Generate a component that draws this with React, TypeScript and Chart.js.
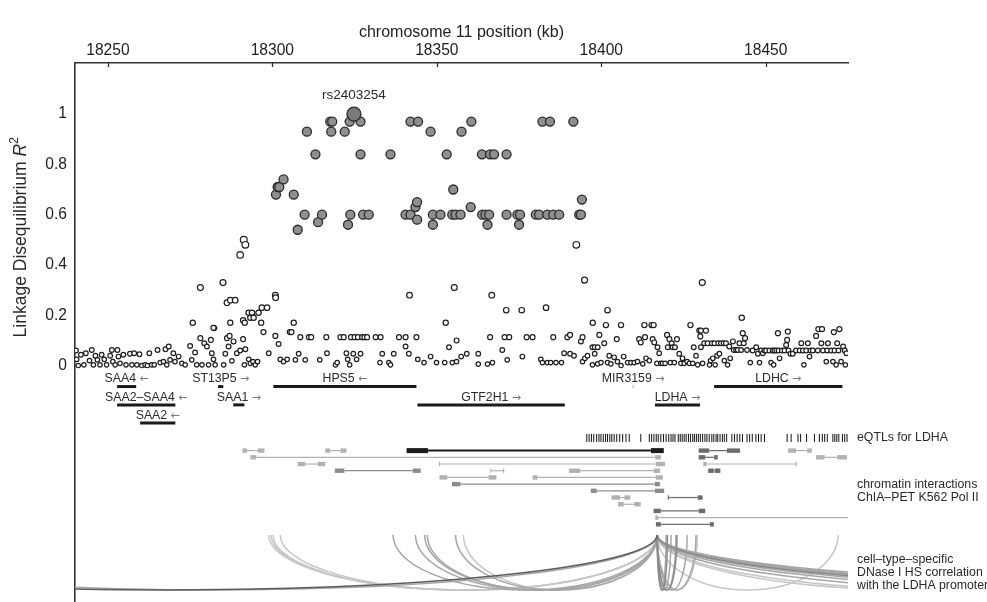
import React, { useEffect, useRef } from 'react';
import { Chart, registerables } from 'chart.js';

Chart.register(...registerables);

const FONT = '"Liberation Sans", Arial, Helvetica, sans-serif';
const ARROW_FONT = '"DejaVu Sans", "Liberation Sans", sans-serif';
const INK = '#222222';

// ---------- axes ----------
const X_MIN = 18240;
const X_MAX = 18475;
const Y_MIN = -0.94;
const Y_MAX = 1.203;
const X_TICKS = [18250, 18300, 18350, 18400, 18450];
const Y_TICKS = [0, 0.2, 0.4, 0.6, 0.8, 1];
const X_TITLE = 'chromosome 11 position (kb)';

// ---------- LD data: [position kb, R²] ----------
const leadSnp = { name: 'rs2403254', pos: 18324.8, r2: 1.0 };

const highLdSnps: [number, number][] = [
  [18310.5, 0.93], [18313.1, 0.84], [18317.6, 0.97], [18318.2, 0.97], [18317.9, 0.93], [18322.0, 0.93],
  [18323.5, 0.97], [18326.8, 0.97], [18326.8, 0.84], [18335.9, 0.84], [18342.0, 0.97], [18344.3, 0.97],
  [18348.1, 0.93], [18353.0, 0.84], [18357.5, 0.93], [18360.5, 0.97], [18363.7, 0.84], [18366.2, 0.84],
  [18367.4, 0.84], [18371.2, 0.84], [18382.1, 0.97], [18384.4, 0.97], [18391.5, 0.97],
  [18301.1, 0.68], [18301.6, 0.71], [18302.1, 0.71], [18303.4, 0.74], [18306.5, 0.68], [18307.7, 0.54],
  [18309.8, 0.60], [18313.9, 0.57], [18315.1, 0.60], [18323.0, 0.56], [18323.7, 0.60], [18327.6, 0.60],
  [18329.3, 0.60], [18340.5, 0.60], [18342.0, 0.60], [18343.5, 0.63], [18344.0, 0.65], [18344.0, 0.58],
  [18348.8, 0.60], [18348.8, 0.56], [18351.1, 0.60], [18355.0, 0.70], [18354.7, 0.60], [18355.7, 0.60],
  [18357.2, 0.60], [18360.3, 0.63], [18363.8, 0.60], [18364.8, 0.60], [18365.9, 0.60], [18365.4, 0.56],
  [18371.2, 0.60], [18374.5, 0.60], [18375.3, 0.60], [18375.0, 0.56], [18380.1, 0.60], [18381.1, 0.60],
  [18383.6, 0.60], [18385.4, 0.60], [18387.2, 0.60], [18393.3, 0.60], [18393.8, 0.60], [18394.1, 0.66],
];

const midLdSnps: [number, number][] = [
  [18278.1, 0.31], [18285.0, 0.33], [18286.2, 0.25], [18287.2, 0.26], [18288.7, 0.26], [18290.2, 0.44],
  [18291.3, 0.50], [18291.8, 0.48], [18291.1, 0.18], [18292.8, 0.21], [18293.8, 0.21], [18293.3, 0.19],
  [18294.3, 0.19], [18295.8, 0.21], [18296.8, 0.23], [18298.4, 0.23], [18300.9, 0.28], [18301.0, 0.27],
  [18341.7, 0.28], [18355.3, 0.31], [18366.7, 0.28], [18371.1, 0.22], [18375.8, 0.22], [18383.2, 0.23],
  [18401.9, 0.22], [18430.7, 0.33], [18442.7, 0.19], [18392.4, 0.48], [18394.9, 0.34], [18352.7, 0.17],
  [18306.5, 0.17], [18275.8, 0.17], [18287.2, 0.17], [18282.1, 0.15], [18291.6, 0.17], [18296.6, 0.17],
  [18397.4, 0.17],
];

const lowLdSnps: [number, number][] = [
  [18240.3, 0.06], [18240.5, 0.025], [18241.0, 0.0], [18241.8, 0.043], [18242.7, 0.003], [18243.3, 0.049],
  [18244.4, 0.02], [18245.1, 0.062], [18245.6, 0.003], [18246.2, 0.039], [18246.8, 0.023], [18247.6, 0.003],
  [18248.1, 0.043], [18248.9, 0.025], [18249.6, 0.003], [18250.7, 0.039], [18251.2, 0.062], [18251.5, 0.016],
  [18252.2, 0.003], [18252.9, 0.062], [18253.2, 0.036], [18253.7, 0.009], [18254.7, 0.043], [18255.5, 0.003],
  [18256.7, 0.047], [18257.3, 0.003], [18258.0, 0.049], [18258.8, 0.003], [18259.6, 0.045], [18260.3, 0.0],
  [18261.3, 0.003], [18262.0, 0.0], [18262.6, 0.049], [18263.3, 0.003], [18264.1, 0.003], [18265.1, 0.062],
  [18265.9, 0.012], [18266.9, 0.016], [18267.5, 0.065], [18267.9, 0.003], [18268.5, 0.076], [18268.9, 0.023],
  [18269.9, 0.049], [18270.4, 0.016], [18271.5, 0.036], [18272.5, 0.009], [18273.5, 0.003], [18275.0, 0.078],
  [18275.5, 0.023], [18276.5, 0.052], [18277.0, 0.003], [18278.1, 0.109], [18278.6, 0.003], [18279.3, 0.089],
  [18280.1, 0.076], [18280.6, 0.003], [18281.3, 0.102], [18281.6, 0.049], [18282.1, 0.025], [18282.3, 0.149],
  [18282.6, 0.003], [18285.2, 0.003], [18285.7, 0.047], [18286.2, 0.109], [18286.7, 0.076], [18287.0, 0.118],
  [18287.7, 0.019], [18288.2, 0.096], [18289.2, 0.049], [18290.2, 0.06], [18291.1, 0.105], [18291.5, 0.003],
  [18291.8, 0.065], [18292.8, 0.025], [18293.3, 0.009], [18294.1, 0.016], [18294.8, 0.003], [18295.5, 0.016],
  [18297.3, 0.133], [18298.9, 0.049], [18300.9, 0.118], [18301.9, 0.086], [18302.4, 0.025], [18303.4, 0.016],
  [18304.5, 0.025], [18305.3, 0.133], [18305.8, 0.133], [18307.0, 0.023], [18308.0, 0.047], [18308.5, 0.113],
  [18310.0, 0.023], [18311.1, 0.113], [18311.8, 0.113], [18314.4, 0.023], [18316.4, 0.113], [18316.6, 0.049],
  [18319.2, 0.003], [18319.7, 0.012], [18320.7, 0.113], [18321.7, 0.113], [18322.5, 0.049], [18322.9, 0.025],
  [18323.5, 0.003], [18323.9, 0.113], [18324.6, 0.047], [18325.0, 0.113], [18325.6, 0.025], [18326.0, 0.113],
  [18326.8, 0.047], [18327.3, 0.113], [18328.0, 0.113], [18328.8, 0.113], [18331.4, 0.113], [18332.7, 0.012],
  [18332.9, 0.113], [18333.4, 0.047], [18335.4, 0.012], [18335.9, 0.003], [18336.9, 0.047], [18338.5, 0.113],
  [18340.5, 0.113], [18340.5, 0.076], [18341.5, 0.047], [18343.8, 0.113], [18344.2, 0.025], [18346.1, 0.012],
  [18348.1, 0.036], [18349.9, 0.012],
  [18353.7, 0.073], [18352.4, 0.012], [18354.7, 0.012], [18356.0, 0.016], [18356.0, 0.1], [18357.4, 0.036],
  [18359.1, 0.047], [18362.6, 0.047], [18362.6, 0.006], [18365.4, 0.006], [18366.9, 0.012], [18366.2, 0.113],
  [18369.9, 0.062], [18370.6, 0.113], [18372.0, 0.113], [18371.4, 0.023], [18376.0, 0.036], [18377.3, 0.113],
  [18379.1, 0.113], [18381.6, 0.025], [18382.1, 0.012], [18383.6, 0.012], [18384.6, 0.012], [18386.2, 0.012],
  [18387.9, 0.012], [18385.4, 0.113], [18388.7, 0.049], [18389.7, 0.113], [18390.5, 0.122], [18390.5, 0.047],
  [18391.7, 0.039], [18393.8, 0.096], [18394.3, 0.113], [18394.3, 0.016], [18395.0, 0.029], [18395.8, 0.039],
  [18397.3, 0.073], [18398.0, 0.073], [18398.9, 0.073], [18399.4, 0.122], [18398.0, 0.047], [18397.3, 0.003],
  [18398.9, 0.007], [18399.9, 0.012], [18400.9, 0.089], [18401.4, 0.161], [18401.9, 0.012], [18402.4, 0.039],
  [18402.9, 0.007], [18403.9, 0.033], [18404.7, 0.105], [18404.9, 0.016], [18406.0, 0.161], [18406.8, 0.036],
  [18406.0, 0.0], [18408.0, 0.012], [18409.0, 0.012], [18410.0, 0.012], [18411.0, 0.016], [18411.5, 0.105],
  [18412.0, 0.092], [18412.6, 0.007], [18413.3, 0.113], [18413.1, 0.161], [18413.6, 0.029], [18414.6, 0.02],
  [18415.3, 0.161], [18415.9, 0.161], [18415.6, 0.105], [18416.1, 0.092], [18416.9, 0.009], [18417.1, 0.073],
  [18417.6, 0.049], [18418.1, 0.009], [18418.6, 0.009], [18419.4, 0.009], [18420.0, 0.122], [18420.2, 0.073],
  [18420.7, 0.105], [18421.0, 0.012], [18421.4, 0.089], [18421.7, 0.073], [18422.4, 0.073], [18422.2, 0.012],
  [18423.0, 0.105], [18423.7, 0.047], [18424.2, 0.009], [18424.7, 0.029], [18425.2, 0.009], [18426.1, 0.016],
  [18426.8, 0.009], [18427.1, 0.161], [18427.8, 0.009], [18428.1, 0.073], [18428.8, 0.039], [18429.3, 0.003],
  [18429.8, 0.139], [18430.1, 0.116], [18430.3, 0.139], [18430.3, 0.073], [18430.8, 0.009], [18431.3, 0.089],
  [18431.8, 0.139], [18432.3, 0.089], [18432.9, 0.003], [18433.2, 0.02], [18433.6, 0.089], [18433.9, 0.029],
  [18434.4, 0.089], [18434.6, 0.003], [18435.2, 0.039], [18435.6, 0.089], [18435.9, 0.047], [18436.4, 0.089],
  [18437.2, 0.089], [18437.4, 0.02], [18437.9, 0.089], [18438.4, 0.003], [18438.9, 0.076], [18439.2, 0.029],
  [18440.0, 0.096], [18440.3, 0.062], [18441.0, 0.062], [18441.5, 0.062], [18442.0, 0.089], [18442.5, 0.062],
  [18443.0, 0.129], [18443.3, 0.089], [18443.7, 0.109], [18444.3, 0.062], [18445.3, 0.012], [18446.0, 0.06],
  [18447.1, 0.073], [18447.6, 0.047], [18448.1, 0.012], [18448.6, 0.06], [18449.1, 0.049], [18449.6, 0.06],
  [18450.1, 0.06], [18451.1, 0.06], [18451.6, 0.012], [18452.1, 0.06], [18452.4, 0.003], [18452.6, 0.06],
  [18453.2, 0.06], [18453.7, 0.129], [18453.9, 0.06], [18454.2, 0.029], [18454.9, 0.06], [18455.7, 0.06],
  [18456.2, 0.082], [18456.7, 0.135], [18456.5, 0.102], [18456.9, 0.06], [18457.5, 0.047], [18458.2, 0.047],
  [18459.2, 0.06], [18460.3, 0.06], [18460.8, 0.089], [18461.3, 0.06], [18461.6, 0.003], [18462.3, 0.06],
  [18462.8, 0.089], [18463.3, 0.036], [18463.6, 0.06], [18464.3, 0.06], [18465.3, 0.118], [18465.8, 0.06],
  [18466.0, 0.145], [18466.9, 0.089], [18467.1, 0.145], [18467.4, 0.06], [18468.4, 0.016], [18468.7, 0.06],
  [18468.9, 0.089], [18469.9, 0.06], [18470.4, 0.016], [18470.7, 0.133], [18470.9, 0.06], [18471.4, 0.003],
  [18471.7, 0.089], [18472.1, 0.06], [18472.4, 0.145], [18472.9, 0.016], [18473.5, 0.076], [18474.0, 0.06],
  [18474.2, 0.003], [18474.5, 0.049],
];

// ---------- genes: [name, start kb, end kb, strand, row] ----------
const genes: [string, number, number, string, number][] = [
  ['SAA4', 18252.8, 18258.6, '←', 0],
  ['ST13P5', 18283.5, 18285.1, '→', 0],
  ['HPS5', 18300.3, 18343.8, '←', 0],
  ['MIR3159', 18409.55, 18409.8, '→', 0],
  ['LDHC', 18434.3, 18473.3, '→', 0],
  ['SAA2–SAA4', 18252.8, 18270.5, '←', 1],
  ['SAA1', 18288.1, 18291.5, '→', 1],
  ['GTF2H1', 18344.1, 18388.9, '→', 1],
  ['LDHA', 18416.3, 18430.0, '→', 1],
  ['SAA2', 18259.8, 18270.5, '←', 2],
];

// ---------- eQTLs for LDHA (kb) ----------
const eqtlPositions = [
  18395.6, 18396.3, 18397.0, 18397.7, 18398.6, 18399.3, 18399.9, 18400.6, 18401.3, 18401.9, 18402.6, 18403.2,
  18403.9, 18404.7, 18405.6, 18406.5, 18407.5, 18408.5, 18412.0, 18414.6, 18415.3, 18416.0, 18416.7, 18417.3,
  18418.1, 18418.9, 18419.7, 18420.5, 18421.2, 18421.8, 18422.4, 18423.4, 18424.0, 18424.6, 18425.2, 18425.8,
  18426.5, 18427.1, 18427.8, 18428.3, 18428.9, 18429.5, 18430.1, 18430.8, 18431.5, 18432.1, 18432.8, 18433.6,
  18434.2, 18434.9, 18435.4, 18436.1, 18436.8, 18437.4, 18438.1, 18439.7, 18440.5, 18441.3, 18442.1, 18442.9,
  18444.3, 18445.1, 18445.9, 18447.0, 18447.8, 18448.6, 18449.6, 18456.5, 18457.7, 18459.8, 18460.6, 18462.4,
  18464.8, 18466.3, 18467.2, 18467.9, 18468.7, 18470.4, 18471.0, 18471.6, 18472.2, 18473.3, 18474.0, 18474.7,
];

// ---------- ChIA-PET loops: [anchor1 start, anchor1 end, anchor2 start, anchor2 end, row, strength] ----------
const chiaLoops: [number, number, number, number, number, number][] = [
  [18290.9, 18292.3, 18295.6, 18297.6, 0, 0],
  [18316.1, 18317.6, 18320.7, 18322.5, 0, 0],
  [18340.8, 18347.3, 18415.1, 18419.0, 0, 3],
  [18429.6, 18432.8, 18438.2, 18442.2, 0, 2],
  [18456.8, 18459.2, 18462.6, 18464.0, 0, 0],
  [18293.3, 18295.1, 18416.4, 18418.1, 1, 0],
  [18429.6, 18431.6, 18434.3, 18435.4, 1, 2],
  [18465.3, 18467.9, 18471.7, 18474.7, 1, 0],
  [18307.7, 18310.0, 18313.8, 18316.1, 2, 0],
  [18350.7, 18350.9, 18416.6, 18419.4, 2, 0],
  [18431.0, 18432.0, 18459.2, 18459.4, 2, 0],
  [18319.0, 18321.9, 18342.7, 18345.1, 3, 1],
  [18366.2, 18366.6, 18370.1, 18370.5, 3, 0],
  [18390.2, 18393.6, 18415.9, 18417.9, 3, 0],
  [18432.5, 18434.2, 18434.5, 18436.2, 3, 2],
  [18350.8, 18353.2, 18365.7, 18368.1, 4, 0],
  [18379.1, 18380.6, 18416.6, 18418.7, 4, 0],
  [18354.6, 18357.2, 18416.3, 18417.8, 5, 1],
  [18396.8, 18398.6, 18416.3, 18419.1, 6, 1],
  [18403.1, 18405.7, 18407.0, 18408.8, 7, 0],
  [18420.3, 18420.5, 18429.3, 18430.8, 7, 2],
  [18405.1, 18406.8, 18410.0, 18412.0, 8, 0],
  [18415.9, 18418.1, 18429.6, 18431.6, 9, 2],
  [18416.4, 18417.3, 18480.0, 18481.0, 10, 0],
  [18416.6, 18418.1, 18433.0, 18434.2, 11, 2],
];

// ---------- DNase I HS correlation arcs with the LDHA promoter ----------
const dnasePromoterKb = 18417.0;
const dnaseArcEnds = [
  18298.9, 18299.6, 18300.2, 18302.4, 18336.7, 18343.5, 18346.3, 18347.1, 18355.7, 18358.1,
  18120, 18150,
  18419.7, 18420.1, 18421.2, 18422.7, 18423.0, 18426.1, 18428.8, 18429.2,
  18472.0,
  18577, 18600, 18650, 18700, 18740, 18770, 18790, 18810, 18830, 18860,
];
const dnaseArcLevel = [
  0, 0, 0, 0, 1, 1, 1, 1, 1, 0,
  3, 1,
  1, 2, 1, 1, 2, 1, 1, 0,
  0,
  0, 0, 1, 1, 1, 2, 1, 1, 1, 1,
];

// ---------- track labels ----------
const eqtlLabel = ['eQTLs for LDHA'];
const chiaLabel = ['chromatin interactions', 'ChIA–PET K562 Pol II'];
const dnaseLabel = ['cell–type–specific', 'DNase I HS correlation', 'with the LDHA promoter'];

// ---------- layout constants (axis units below R² = 0) ----------
const GENE_ROW_Y = [-0.0835, -0.1563, -0.2279];
const EQTL_ROW_Y = -0.2876;
const CHIA_ROW0_Y = -0.3381;
const CHIA_ROW_STEP = 0.02665;
const ARC_TOP_Y = -0.6734;
const ARC_DEPTH = 0.2188;
const EQTL_LABEL_Y = [-0.2876];
const CHIA_LABEL_Y = [-0.4745, -0.5263];
const DNASE_LABEL_Y = [-0.7729, -0.8246, -0.8763];

const CHIA_COLORS = ['#b2b2b2', '#8c8c8c', '#6c6c6c', '#1a1a1a'];
const ARC_COLORS = ['#c6c6c6', '#a6a6a6', '#8a8a8a', '#5c5c5c'];

const decorPlugin = {
  id: 'decor',
  beforeDatasetsDraw(chart: any) {
    const { ctx, chartArea: ca } = chart;
    const xs = chart.scales.x;
    const ys = chart.scales.y;
    ctx.save();
    ctx.beginPath();
    ctx.rect(ca.left, ca.top, ca.right - ca.left, ca.bottom - ca.top);
    ctx.clip();

    // arcs
    const pp = xs.getPixelForValue(dnasePromoterKb);
    const top = ys.getPixelForValue(ARC_TOP_Y);
    const ry = ys.getPixelForValue(ARC_TOP_Y - ARC_DEPTH) - top;
    const idx = dnaseArcEnds.map((_, i) => i).sort((a, b) => dnaseArcLevel[a] - dnaseArcLevel[b]);
    ctx.lineWidth = 1.5;
    idx.forEach((i) => {
      const pd = xs.getPixelForValue(dnaseArcEnds[i]);
      ctx.beginPath();
      ctx.ellipse((pd + pp) / 2, top, Math.max(Math.abs(pd - pp) / 2, 0.5), ry, 0, 0, Math.PI);
      ctx.strokeStyle = ARC_COLORS[dnaseArcLevel[i]];
      ctx.stroke();
    });

    // ChIA-PET loops
    chiaLoops.forEach(([a1s, a1e, a2s, a2e, row, lvl]) => {
      const yy = ys.getPixelForValue(CHIA_ROW0_Y - row * CHIA_ROW_STEP);
      const col = CHIA_COLORS[lvl];
      const h = lvl === 3 ? 5 : 4.4;
      const x1s = xs.getPixelForValue(a1s);
      const x1e = xs.getPixelForValue(a1e);
      const x2s = xs.getPixelForValue(a2s);
      const x2e = xs.getPixelForValue(a2e);
      ctx.strokeStyle = col;
      ctx.lineWidth = lvl === 3 ? 2 : 1.2;
      ctx.beginPath();
      ctx.moveTo(x1e, yy);
      ctx.lineTo(x2s, yy);
      ctx.stroke();
      ctx.fillStyle = col;
      [[x1s, x1e], [x2s, x2e]].forEach(([s, e]) => {
        if (e - s < 2) ctx.fillRect((s + e) / 2 - 0.6, yy - h / 2, 1.2, h);
        else ctx.fillRect(s, yy - h / 2, e - s, h);
      });
    });
    ctx.restore();
  },
  afterDraw(chart: any) {
    const { ctx, chartArea: ca } = chart;
    const xs = chart.scales.x;
    const ys = chart.scales.y;
    ctx.save();
    // inward tick marks on the top axis
    ctx.strokeStyle = '#333';
    ctx.lineWidth = 1.3;
    X_TICKS.forEach((v) => {
      const px = Math.round(xs.getPixelForValue(v)) + 0.5;
      ctx.beginPath();
      ctx.moveTo(px, ca.top);
      ctx.lineTo(px, ca.top + 4);
      ctx.stroke();
    });

    // gene labels
    ctx.textBaseline = 'middle';
    ctx.textAlign = 'left';
    genes.forEach(([name, s, e, strand, row]) => {
      const cx = (xs.getPixelForValue(s) + xs.getPixelForValue(e)) / 2;
      const yy = ys.getPixelForValue(GENE_ROW_Y[row]) - 7.5;
      const a = name + ' ';
      ctx.font = `12.3px ${FONT}`;
      const wa = ctx.measureText(a).width;
      ctx.font = `11px ${ARROW_FONT}`;
      const wb = ctx.measureText(strand).width;
      const x0 = cx - (wa + wb) / 2;
      ctx.font = `12.3px ${FONT}`;
      ctx.fillStyle = '#2a2a2a';
      ctx.fillText(a, x0, yy);
      ctx.font = `11px ${ARROW_FONT}`;
      ctx.fillStyle = '#7a7a7a';
      ctx.fillText(strand, x0 + wa, yy + 0.5);
    });

    // lead SNP label
    ctx.font = `13.5px ${FONT}`;
    ctx.textAlign = 'center';
    ctx.fillStyle = '#2a2a2a';
    ctx.fillText(leadSnp.name, xs.getPixelForValue(leadSnp.pos), ys.getPixelForValue(leadSnp.r2) - 19);

    // right-hand track labels
    ctx.font = `12.3px ${FONT}`;
    ctx.textAlign = 'left';
    ctx.fillStyle = '#2a2a2a';
    const lx = ca.right + 9;
    eqtlLabel.forEach((t, i) => ctx.fillText(t, lx, ys.getPixelForValue(EQTL_LABEL_Y[i])));
    chiaLabel.forEach((t, i) => ctx.fillText(t, lx, ys.getPixelForValue(CHIA_LABEL_Y[i])));
    dnaseLabel.forEach((t, i) => ctx.fillText(t, lx, ys.getPixelForValue(DNASE_LABEL_Y[i])));

    // y-axis title with italic R and superscript 2
    const parts = [
      { t: 'Linkage Disequilibrium ', f: `17.5px ${FONT}`, dy: 0 },
      { t: 'R', f: `italic 17.5px ${FONT}`, dy: 0 },
      { t: '2', f: `12px ${FONT}`, dy: -6.5 },
    ];
    let total = 0;
    const widths = parts.map((p) => {
      ctx.font = p.f;
      const w = ctx.measureText(p.t).width;
      total += w;
      return w;
    });
    ctx.translate(21, ys.getPixelForValue(0.51));
    ctx.rotate(-Math.PI / 2);
    let cx = -total / 2;
    ctx.textAlign = 'left';
    ctx.textBaseline = 'middle';
    parts.forEach((p, i) => {
      ctx.font = p.f;
      ctx.fillText(p.t, cx, p.dy);
      cx += widths[i];
    });
    ctx.restore();
  },
};

export default function App() {
  const ref = useRef<HTMLCanvasElement>(null);
  useEffect(() => {
    if (!ref.current) return;
    const pts = (arr: [number, number][]) => arr.map(([x, y]) => ({ x, y }));
    const datasets: any[] = [
      {
        label: 'lead',
        data: [{ x: leadSnp.pos, y: leadSnp.r2 }],
        backgroundColor: '#7a7a7a',
        borderColor: '#2a2a2a',
        borderWidth: 1.3,
        pointRadius: 7,
        order: 0,
      },
      {
        label: 'high',
        data: pts(highLdSnps),
        backgroundColor: '#8f8f8f',
        borderColor: '#2a2a2a',
        borderWidth: 1.3,
        pointRadius: 4.5,
        order: 1,
      },
      {
        label: 'low',
        data: pts([...lowLdSnps, ...midLdSnps]),
        backgroundColor: '#ffffff',
        borderColor: '#1e1e1e',
        borderWidth: 1.2,
        pointRadius: (c: any) => 2.2 + 2.4 * (c.raw ? c.raw.y : 0),
        order: 2,
      },
      {
        label: 'eqtl',
        data: eqtlPositions.map((x) => ({ x, y: EQTL_ROW_Y })),
        pointStyle: 'line',
        rotation: 90,
        pointRadius: 4,
        borderColor: '#111111',
        borderWidth: 1,
        order: 3,
      },
      ...genes.map(([name, s, e, , row]) => ({
        label: name,
        data: [{ x: s, y: GENE_ROW_Y[row] }, { x: e, y: GENE_ROW_Y[row] }],
        showLine: true,
        borderColor: name === 'MIR3159' ? '#9a9a9a' : '#1a1a1a',
        borderWidth: 3,
        pointRadius: 0,
        order: 4,
      })),
    ];

    const chart = new Chart(ref.current, {
      type: 'scatter',
      data: { datasets },
      plugins: [decorPlugin],
      options: {
        responsive: false,
        animation: false,
        devicePixelRatio: 1,
        events: [],
        layout: { autoPadding: false, padding: { left: 0, right: 139, top: 0, bottom: 0 } },
        plugins: { legend: { display: false }, tooltip: { enabled: false } },
        scales: {
          x: {
            type: 'linear',
            position: 'top',
            min: X_MIN,
            max: X_MAX,
            afterFit: (s: any) => { s.height = 63; s.paddingLeft = 0; s.paddingRight = 0; },
            afterBuildTicks: (s: any) => { s.ticks = X_TICKS.map((value) => ({ value })); },
            grid: { display: false, drawTicks: false },
            border: { display: true, color: '#333333', width: 1.6 },
            ticks: {
              font: { family: FONT, size: 15.6 },
              color: INK,
              padding: 3,
              maxRotation: 0,
              autoSkip: false,
              callback: (v: any) => String(v),
            },
            title: {
              display: true,
              text: X_TITLE,
              font: { family: FONT, size: 16 },
              color: INK,
              padding: { top: 23, bottom: 0 },
            },
          },
          y: {
            type: 'linear',
            min: Y_MIN,
            max: Y_MAX,
            afterFit: (s: any) => { s.width = 75; s.paddingTop = 0; s.paddingBottom = 0; },
            afterBuildTicks: (s: any) => { s.ticks = Y_TICKS.map((value) => ({ value })); },
            grid: { display: false, drawTicks: false },
            border: { display: true, color: '#333333', width: 1.6 },
            ticks: {
              font: { family: FONT, size: 15.6 },
              color: INK,
              padding: 8,
              callback: (v: any) => (v === 0 ? '0' : v === 1 ? '1' : Number(v).toFixed(1)),
            },
          },
        },
      } as any,
    });
    return () => chart.destroy();
  }, []);

  return (
    <div style={{ position: 'absolute', left: 0, top: 0, width: 987, height: 602, background: '#ffffff' }}>
      <canvas ref={ref} width={987} height={602} style={{ width: 987, height: 602, display: 'block' }} />
    </div>
  );
}
